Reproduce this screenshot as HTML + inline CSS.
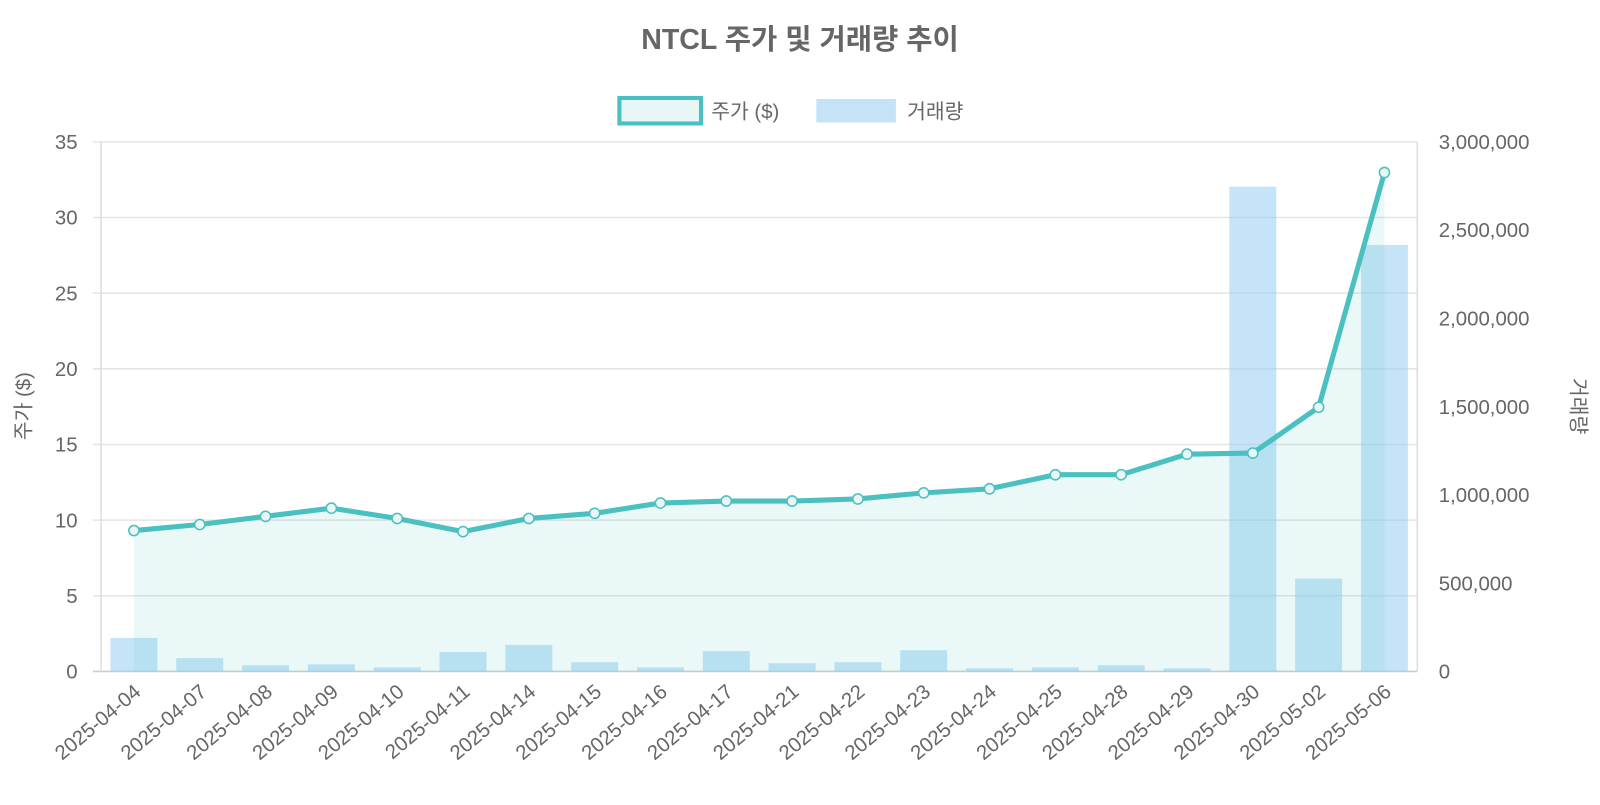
<!DOCTYPE html>
<html><head><meta charset="utf-8"><style>
body{margin:0;background:#fff;font-family:"Liberation Sans","Noto Sans CJK KR",sans-serif}
svg text{font-family:"Liberation Sans","Noto Sans CJK KR",sans-serif}
</style></head><body>
<svg id="c" width="1600" height="800">
<g transform="scale(1.020408)">
<text x="784" y="48" text-anchor="middle" font-size="28" font-weight="bold" fill="#666">NTCL 주가 및 거래량 추이</text>
<g>
<rect x="607" y="96" width="80" height="25" fill="#e8f7f6" stroke="#4bc0c0" stroke-width="4"/>
<text x="697" y="116" font-size="20" fill="#666">주가 ($)</text>
<rect x="800" y="97" width="78" height="23" fill="#c5e3f6"/>
<text x="889" y="116" font-size="20" fill="#666">거래량</text>
</g>
<text transform="translate(30,398) rotate(-90)" text-anchor="middle" font-size="20" fill="#666">주가 ($)</text>
<text transform="translate(1540,398) rotate(90)" text-anchor="middle" font-size="20" fill="#666">거래량</text>
<g id="g"></g>
</g>
</svg>
<script>
const categories=["2025-04-04","2025-04-07","2025-04-08","2025-04-09","2025-04-10","2025-04-11","2025-04-14","2025-04-15","2025-04-16","2025-04-17","2025-04-21","2025-04-22","2025-04-23","2025-04-24","2025-04-25","2025-04-28","2025-04-29","2025-04-30","2025-05-02","2025-05-06"];
const prices=[9.31,9.71,10.25,10.79,10.11,9.24,10.11,10.45,11.13,11.26,11.26,11.4,11.8,12.07,13.0,13.0,14.36,14.43,17.46,32.97];
const volumes=[190000,75000,35000,40000,23000,110000,150000,52000,23000,115000,46000,52000,120000,17000,23000,35000,17000,2746000,526000,2416000];
const leftTicks=[0,5,10,15,20,25,30,35];
const rightTicks=[0,500000,1000000,1500000,2000000,2500000,3000000];
const X0=99,X1=1389,Y0=658,Y1=139;
const bw=(X1-X0)/categories.length;
const xc=i=>X0+bw*(i+0.5);
const yl=v=>Y0-(v/35)*(Y0-Y1);
const yr=v=>Y0-(v/3000000)*(Y0-Y1);
const g=document.getElementById('g');const NS="http://www.w3.org/2000/svg";
function mk(t,a){const e=document.createElementNS(NS,t);for(const k in a)e.setAttribute(k,a[k]);g.appendChild(e);return e;}
leftTicks.forEach((t,i)=>{
 const l=mk('line',{x1:X0-8,x2:X1,y1:yl(t),y2:yl(t),stroke:i==0?'#ccc':'#e4e4e4','stroke-width':1.5});
 
 
 const tx=mk('text',{x:76,y:yl(t)+7,'text-anchor':'end','font-size':20,fill:'#666'});tx.textContent=t;
 
 
});
rightTicks.forEach(t=>{
 const tx=mk('text',{x:1410,y:yr(t)+7,'font-size':20,fill:'#666'});tx.textContent=t.toLocaleString('en-US');
 
 
});
const ax=mk('line',{x1:X0,x2:X0,y1:Y1,y2:Y0,stroke:'#ddd','stroke-width':1.5});


const ax2=mk('line',{x1:X1,x2:X1,y1:Y1,y2:Y0,stroke:'#ddd','stroke-width':1.5});


volumes.forEach((v,i)=>{
 const r=mk('rect',{x:xc(i)-23,y:yr(v),width:46,height:Y0-yr(v),fill:'rgba(150,205,240,0.55)'});
 
 
});
let pts=prices.map((p,i)=>xc(i)+','+yl(p)).join(' ');
const area=mk('polygon',{points:xc(0)+','+Y0+' '+pts+' '+xc(prices.length-1)+','+Y0,fill:'rgba(75,192,192,0.11)'});


const line=mk('polyline',{points:pts,fill:'none',stroke:'#4bc0c0','stroke-width':5,'stroke-linejoin':'round'});


prices.forEach((p,i)=>{
 const c=mk('circle',{cx:xc(i),cy:yl(p),r:5,fill:'#e8f7f6',stroke:'#4bc0c0','stroke-width':1.5});
 
 
});
categories.forEach((c,i)=>{
 const x=xc(i)+8,y=Y0+22;
 const t=mk('text',{x:x,y:y,'text-anchor':'end','font-size':20,fill:'#666',transform:`rotate(-40 ${x} ${y})`});t.textContent=c;
 
 
});
</script>
</body></html>
